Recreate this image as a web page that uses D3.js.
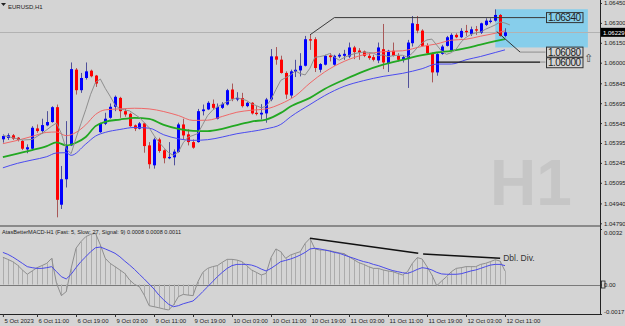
<!DOCTYPE html>
<html><head><meta charset="utf-8">
<script src="https://cdn.jsdelivr.net/npm/d3@7"></script>
<style>html,body{margin:0;padding:0;background:#d4d4d4;}svg{display:block;font-family:'Liberation Sans',Arial,sans-serif;}</style>
</head><body><svg id="c" width="625" height="326"></svg>
<script>
// ---- DATA ----
const symbolTitle = "EURUSD,H1";
const macdTitle = "AtasBetterMACD-H1 (Fast: 5, Slow: 27, Signal: 9) 0.0008 0.0008 0.0011";
const open = [1.05423,1.05433,1.05453,1.05435,1.0541,1.05347,1.05352,1.05505,1.05485,1.05528,1.05553,1.05665,1.0493,1.05122,1.05377,1.05948,1.05793,1.05885,1.0594,1.05903,1.05477,1.0554,1.05585,1.05668,1.05735,1.05635,1.05615,1.05528,1.05503,1.05543,1.05377,1.05227,1.05422,1.0534,1.0528,1.05287,1.05328,1.05535,1.0546,1.05402,1.05402,1.05635,1.05648,1.0569,1.05578,1.0566,1.05685,1.05798,1.05723,1.05733,1.05673,1.05698,1.05623,1.0561,1.05618,1.05723,1.06048,1.06023,1.05923,1.05753,1.0593,1.05942,1.05977,1.06177,1.06177,1.05947,1.05985,1.06055,1.05985,1.06047,1.06052,1.06047,1.06115,1.06092,1.06085,1.06052,1.06042,1.06017,1.06102,1.05997,1.0609,1.06052,1.06022,1.06027,1.06147,1.06292,1.06242,1.06127,1.06072,1.05927,1.06067,1.06127,1.06092,1.0621,1.06192,1.0624,1.06217,1.06252,1.06227,1.06285,1.06307,1.06317,1.0636,1.06202];
const high = [1.0546,1.05468,1.05463,1.0544,1.05418,1.05385,1.05522,1.05535,1.05578,1.05635,1.05672,1.05685,1.05222,1.0556,1.06002,1.0596,1.05923,1.06002,1.05948,1.05908,1.05548,1.05623,1.05693,1.05753,1.05743,1.05652,1.05623,1.05535,1.05553,1.05548,1.05402,1.05435,1.05435,1.05347,1.05402,1.05347,1.05548,1.05578,1.05498,1.05422,1.05652,1.05685,1.0571,1.05723,1.05693,1.05703,1.05803,1.05843,1.05778,1.05773,1.05705,1.05703,1.05673,1.05688,1.05735,1.06103,1.06118,1.06053,1.05935,1.05948,1.06022,1.06072,1.06202,1.0621,1.06192,1.05997,1.0606,1.06072,1.0606,1.06072,1.06097,1.06152,1.06127,1.0611,1.06092,1.06067,1.0606,1.06152,1.06292,1.06097,1.06152,1.06072,1.06052,1.06172,1.06352,1.06352,1.06252,1.06147,1.06077,1.06072,1.06135,1.06202,1.06222,1.06222,1.0626,1.06285,1.06272,1.06277,1.06302,1.06335,1.06335,1.06402,1.06367,1.0626];
const low = [1.05398,1.05418,1.05418,1.05407,1.05342,1.05318,1.05347,1.05472,1.05467,1.05522,1.05548,1.04835,1.04898,1.0506,1.05372,1.0576,1.05773,1.05873,1.0589,1.05818,1.05472,1.0553,1.05578,1.05635,1.05585,1.05593,1.05517,1.05485,1.05498,1.05322,1.05202,1.05202,1.05322,1.05242,1.05273,1.05227,1.05322,1.05422,1.05377,1.05352,1.05398,1.05603,1.05643,1.05648,1.05573,1.05652,1.05678,1.0571,1.0571,1.05663,1.05665,1.0561,1.05603,1.05573,1.05548,1.0571,1.05985,1.05918,1.05728,1.05735,1.05892,1.05897,1.05972,1.06097,1.0593,1.05927,1.0598,1.0601,1.05977,1.06035,1.06022,1.06035,1.06027,1.06022,1.06042,1.06022,1.0601,1.05997,1.05952,1.0593,1.06047,1.0601,1.06002,1.0581,1.06122,1.06222,1.06122,1.0606,1.05852,1.05902,1.0606,1.06122,1.06085,1.06185,1.06185,1.06202,1.06202,1.0621,1.06217,1.06277,1.06297,1.0631,1.06197,1.06192];
const close = [1.05448,1.05453,1.05428,1.05418,1.05352,1.05363,1.0551,1.05485,1.0553,1.05553,1.05665,1.04967,1.05122,1.05377,1.05952,1.05793,1.05885,1.05935,1.05898,1.05843,1.0554,1.05578,1.05668,1.05743,1.05635,1.0561,1.05522,1.05503,1.05543,1.05372,1.05235,1.05422,1.05335,1.0528,1.0529,1.0533,1.05535,1.05452,1.05402,1.0536,1.05635,1.05648,1.05698,1.0566,1.05668,1.0569,1.05793,1.05728,1.05735,1.05673,1.05698,1.05618,1.05613,1.05623,1.05723,1.06048,1.06023,1.05923,1.0576,1.05935,1.05947,1.05977,1.06177,1.06167,1.0596,1.0599,1.06052,1.06042,1.06052,1.0606,1.06067,1.06115,1.0608,1.06077,1.06052,1.06035,1.06022,1.06115,1.06002,1.0609,1.06052,1.06022,1.06042,1.06152,1.06297,1.06242,1.06127,1.06072,1.05927,1.06065,1.06122,1.06192,1.0621,1.06192,1.0624,1.0623,1.06252,1.06242,1.06297,1.06317,1.06317,1.0636,1.06202,1.06229];
// moving averages as [bar index, price]
const fastMA = [[0,1.05452],[2,1.05435],[4,1.05417],[6,1.05422],[8,1.05467],[10,1.05522],[11,1.05545],[12,1.05467],[13,1.0535],[14,1.05315],[15,1.05432],[16,1.0554],[17,1.05647],[18,1.05762],[19,1.05852],[20,1.05877],[21,1.05807],[22,1.05747],[23,1.05682],[24,1.05652],[26,1.05637],[28,1.05587],[30,1.0551],[31,1.05452],[32,1.05402],[33,1.0536],[34,1.05322],[35,1.05302],[36,1.05327],[37,1.05397],[38,1.0544],[39,1.05452],[40,1.05467],[41,1.05535],[42,1.05602],[43,1.05642],[44,1.05667],[45,1.05687],[46,1.05707],[47,1.05722],[48,1.05735],[49,1.05727],[50,1.05715],[51,1.0569],[52,1.05677],[53,1.0566],[54,1.05672],[55,1.05722],[56,1.05797],[57,1.05867],[58,1.05887],[59,1.05907],[60,1.05938],[61,1.05918],[62,1.05908],[63,1.05959],[64,1.06041],[65,1.06046],[66,1.06054],[67,1.06069],[68,1.06042],[69,1.06019],[70,1.06039],[71,1.06055],[72,1.06067],[73,1.06075],[74,1.0608],[75,1.06078],[76,1.06072],[77,1.06053],[78,1.0606],[79,1.06045],[80,1.06053],[81,1.06056],[82,1.06056],[83,1.06042],[84,1.06072],[85,1.06113],[86,1.06151],[87,1.06172],[88,1.06178],[89,1.06133],[90,1.06087],[91,1.06063],[92,1.06076],[93,1.06103],[94,1.06156],[95,1.06191],[96,1.06213],[97,1.06225],[98,1.06231],[99,1.06252],[100,1.06268],[101,1.06285],[102,1.06307],[103,1.06299],[104,1.06285]];
const redMA = [[0,1.0539],[3,1.05415],[6,1.05445],[9,1.05475],[11,1.05478],[13,1.0545],[15,1.05475],[17,1.05532],[19,1.0561],[21,1.05645],[24,1.05652],[27,1.05657],[30,1.05652],[33,1.05632],[36,1.05602],[39,1.05565],[42,1.05567],[45,1.05595],[48,1.05627],[51,1.05642],[54,1.05652],[57,1.0569],[60,1.0575],[63,1.05847],[66,1.0593],[70,1.0601],[74,1.0606],[78,1.06083],[82,1.0609],[86,1.06123],[89,1.06142],[92,1.0617],[95,1.06177],[98,1.062],[101,1.06222],[103,1.0624]];
const greenMA = [[0,1.05288],[3,1.05315],[6,1.05342],[9,1.05372],[11,1.054],[13,1.05377],[15,1.05397],[17,1.0544],[19,1.05522],[21,1.05555],[24,1.05572],[27,1.05585],[30,1.05577],[33,1.05532],[36,1.05502],[39,1.05487],[42,1.05485],[45,1.05502],[48,1.0553],[51,1.05557],[54,1.05572],[57,1.05622],[59,1.0567],[63,1.05735],[66,1.05802],[70,1.05872],[74,1.05935],[78,1.05985],[82,1.06022],[86,1.06057],[89,1.06077],[92,1.0609],[95,1.0611],[98,1.06137],[101,1.06162],[103,1.06177]];
const blueMA = [[0,1.05208],[3,1.05242],[6,1.05267],[9,1.05292],[11,1.0532],[13,1.05322],[14,1.05302],[17,1.05387],[19,1.05447],[21,1.05475],[24,1.05497],[27,1.05512],[30,1.05507],[33,1.05457],[36,1.05427],[39,1.05415],[42,1.0542],[45,1.0544],[48,1.05465],[51,1.05482],[54,1.05502],[57,1.05535],[59,1.05592],[63,1.05685],[66,1.05752],[70,1.05822],[74,1.05865],[78,1.05897],[82,1.0592],[86,1.05955],[89,1.0599],[92,1.0599],[95,1.06022],[98,1.06047],[101,1.06077],[103,1.06097]];
const macdMain = [0.00157,0.00145,0.00132,0.00112,0.00084,0.00059,0.00078,0.00097,0.00109,0.00122,0.00151,0.00007,-0.00064,-0.00041,0.00093,0.00209,0.00247,0.00276,0.00289,0.00295,0.00228,0.00151,0.00122,0.00103,0.00084,0.00064,0.00026,0.00001,-0.00013,-0.00061,-0.00122,-0.00128,-0.00134,-0.00141,-0.00147,-0.00118,-0.00070,-0.00057,-0.00061,-0.00064,0.00016,0.00070,0.00093,0.00103,0.00109,0.00128,0.00145,0.00145,0.00141,0.00132,0.00109,0.00084,0.00070,0.00055,0.00064,0.00155,0.00205,0.00189,0.00151,0.00170,0.00180,0.00189,0.00237,0.00266,0.00205,0.00199,0.00199,0.00195,0.00189,0.00182,0.00178,0.00160,0.00143,0.00126,0.00116,0.00103,0.00093,0.00093,0.00084,0.00078,0.00074,0.00064,0.00055,0.00074,0.00122,0.00155,0.00147,0.00103,0.00055,-0.00007,0.00020,0.00045,0.00074,0.00093,0.00097,0.00103,0.00103,0.00103,0.00116,0.00122,0.00132,0.00143,0.00135,0.00078];
const macdSignal = [0.00185,0.00174,0.00159,0.00141,0.00122,0.00103,0.00097,0.00093,0.00093,0.00097,0.00103,0.00074,0.00045,0.00032,0.00059,0.00097,0.00132,0.00160,0.00189,0.00212,0.00216,0.00205,0.00193,0.00180,0.00160,0.00135,0.00112,0.00087,0.00059,0.00032,0.00003,-0.00026,-0.00061,-0.00089,-0.00114,-0.00128,-0.00122,-0.00111,-0.00103,-0.00095,-0.00070,-0.00041,-0.00013,0.00016,0.00045,0.00070,0.00093,0.00109,0.00116,0.00116,0.00116,0.00112,0.00103,0.00089,0.00078,0.00093,0.00112,0.00132,0.00139,0.00147,0.00157,0.00170,0.00185,0.00205,0.00209,0.00205,0.00199,0.00193,0.00185,0.00180,0.00170,0.00160,0.00151,0.00141,0.00132,0.00126,0.00116,0.00109,0.00099,0.00089,0.00080,0.00074,0.00068,0.00064,0.00074,0.00087,0.00097,0.00093,0.00084,0.00070,0.00061,0.00059,0.00059,0.00059,0.00062,0.00070,0.00078,0.00084,0.00093,0.00103,0.00112,0.00116,0.00116,0.00109];
const priceTicks = [1.06450,1.06300,1.06150,1.06000,1.05845,1.05695,1.05545,1.05395,1.05245,1.05095,1.04940,1.04790];
const currentPrice = 1.06229;
const timeTickIdx = [0,7,15,23,31,39,47,55,63,71,79,87,95,103];
const timeTickText = ["5 Oct 2023","6 Oct 11:00","6 Oct 19:00","9 Oct 03:00","9 Oct 11:00","9 Oct 19:00","10 Oct 03:00","10 Oct 11:00","10 Oct 19:00","11 Oct 03:00","11 Oct 11:00","11 Oct 19:00","12 Oct 03:00","12 Oct 11:00"];
const macdTicks = [0.0032, 0, -0.0017];
const macdTickText = ["0.0032","0.00","-0.0017"];
// annotations (bar index, price)
const zoneRect = {i0:101, i1:120, p0:1.06403, p1:1.06115};
const levelPrices = [1.06340, 1.06080, 1.06000];
const levelLabels = ["1.06340","1.06080","1.06000"];
const level1Path = [[63,1.0621],[68,1.0634],[111.3,1.0634]];
const level2Diag = [[101.3,1.06235],[106.1,1.0608]];
const level2Flat = [[106.1,1.0608],[111.3,1.0608]];
const level3Black = [[89,1.06005],[110.2,1.06005]];
const level3Gray = [[110.2,1.06005],[111.3,1.06005]];
const divLine1 = [[63,0.00266],[85.2,0.0018]];
const divLine2 = [[86.2,0.00176],[102,0.00151]];

// ---- CHART ----
const svg = d3.select('#c');
const BG = '#d4d4d4';
svg.append('rect').attr('width',625).attr('height',326).attr('fill',BG);
const x = d3.scaleLinear().domain([0,103]).range([2.875,505]);
const y = d3.scaleLinear().domain([1.0479,1.0645]).range([223.3,3]);
const ym = d3.scaleLinear().domain([-0.0017,0.0032]).range([314,229]);
const defs = svg.append('defs');
defs.append('clipPath').attr('id','cm').append('rect').attr('x',0).attr('y',0).attr('width',600).attr('height',225);
defs.append('clipPath').attr('id','cd').append('rect').attr('x',0).attr('y',228).attr('width',600).attr('height',86);

const main = svg.append('g').attr('clip-path','url(#cm)');
main.append('text').attr('x',490).attr('y',205).attr('font-size',64).attr('font-weight','bold').attr('fill','#c6c6c6').text('H1');
main.append('rect').attr('x',x(zoneRect.i0)).attr('y',y(zoneRect.p0)).attr('width',x(zoneRect.i1)-x(zoneRect.i0)).attr('height',y(zoneRect.p1)-y(zoneRect.p0)).attr('fill','#87ceeb');
main.append('line').attr('x1',0).attr('x2',600).attr('y1',Math.round(y(currentPrice))+0.5).attr('y2',Math.round(y(currentPrice))+0.5).attr('stroke','#b2b2b2').attr('stroke-width',1);

const idx = d3.range(open.length);
const cg = main.append('g');
idx.forEach(i=>{
  const bx = Math.round(x(i));
  const up = close[i] >= open[i];
  const wc = up ? '#50509a' : '#a85858';
  const fc = up ? '#0000ff' : '#ff0000';
  cg.append('rect').attr('x',bx).attr('width',1).attr('y',y(high[i])).attr('height',Math.max(1,y(low[i])-y(high[i]))).attr('fill',wc);
  const t = y(Math.max(open[i],close[i])), b = y(Math.min(open[i],close[i]));
  cg.append('rect').attr('x',bx-1).attr('width',3).attr('y',t).attr('height',Math.max(1,b-t)).attr('fill',fc);
});
const ln = d3.line().x(d=>x(d[0])).y(d=>y(d[1])).curve(d3.curveMonotoneX);
main.append('path').attr('d',ln(blueMA)).attr('fill','none').attr('stroke','#4b4bf0').attr('stroke-width',1);
main.append('path').attr('d',ln(greenMA)).attr('fill','none').attr('stroke','#22a822').attr('stroke-width',1.8);
main.append('path').attr('d',ln(redMA)).attr('fill','none').attr('stroke','#f06868').attr('stroke-width',1);
main.append('path').attr('d',d3.line().x(d=>x(d[0])).y(d=>y(d[1]))(fastMA)).attr('fill','none').attr('stroke','#8e8e8e').attr('stroke-width',1);
const pl = d3.line().x(d=>x(d[0])).y(d=>y(d[1]));
main.append('path').attr('d',pl(level1Path)).attr('fill','none').attr('stroke','#3a3a3a').attr('stroke-width',1);
main.append('path').attr('d',pl(level2Diag)).attr('fill','none').attr('stroke','#333').attr('stroke-width',1);
main.append('path').attr('d',pl(level2Flat)).attr('fill','none').attr('stroke','#9a9a9a').attr('stroke-width',1.2);
main.append('path').attr('d',pl(level3Black)).attr('fill','none').attr('stroke','#111').attr('stroke-width',1.3);
main.append('path').attr('d',pl(level3Gray)).attr('fill','none').attr('stroke','#9a9a9a').attr('stroke-width',1.2);
levelPrices.forEach((p,k)=>{
  const yy = y(p);
  main.append('rect').attr('x',546.5).attr('y',yy-5).attr('width',36.5).attr('height',10).attr('fill','none').attr('stroke','#333').attr('stroke-width',1);
  main.append('text').attr('x',548).attr('y',yy+3.6).attr('font-size',10).attr('fill','#222').attr('textLength',33).text(levelLabels[k]);
});
main.append('text').attr('x',584).attr('y',y(1.0608)+10).attr('font-size',11).attr('fill','#444').attr('font-family','DejaVu Sans').text('\u21E7');

svg.append('path').attr('d','M1,3 L6,3 L3.5,6 Z').attr('fill','#222');
svg.append('text').attr('x',8).attr('y',9).attr('font-size',6).attr('fill','#222').text(symbolTitle);

const pa = svg.append('g').attr('transform','translate(600,0)').call(d3.axisRight(y).tickValues(priceTicks).tickFormat(d3.format('.5f')).tickSize(2).tickPadding(2));
pa.select('.domain').remove();
pa.selectAll('text').attr('font-size',6).attr('fill','#222').attr('font-family','Liberation Sans');
pa.selectAll('line').attr('stroke','#333');
svg.append('rect').attr('x',601).attr('y',y(currentPrice)-4.5).attr('width',24).attr('height',9).attr('fill','#000');
svg.append('text').attr('x',603).attr('y',y(currentPrice)+2.2).attr('font-size',6).attr('fill','#fff').text(d3.format('.5f')(currentPrice));

svg.append('rect').attr('x',0).attr('y',225).attr('width',600).attr('height',2).attr('fill','#8a8a8a');

const md = svg.append('g').attr('clip-path','url(#cd)');
md.append('line').attr('x1',0).attr('x2',600).attr('y1',Math.round(ym(0))+0.5).attr('y2',Math.round(ym(0))+0.5).attr('stroke','#7a7a7a');
idx.forEach(i=>{
  const bx = Math.round(x(i))+0.5;
  md.append('line').attr('x1',bx).attr('x2',bx).attr('y1',ym(0)).attr('y2',ym(macdMain[i])).attr('stroke','#acacac').attr('stroke-width',1);
});
const ml = d3.line().x((d,i)=>x(i)).y(d=>ym(d));
md.append('path').attr('d',ml(macdMain)).attr('fill','none').attr('stroke','#8e8e8e').attr('stroke-width',1);
md.append('path').attr('d',ml(macdSignal)).attr('fill','none').attr('stroke','#4a4ae8').attr('stroke-width',1);
const dl = d3.line().x(d=>x(d[0])).y(d=>ym(d[1]));
md.append('path').attr('d',dl(divLine1)).attr('fill','none').attr('stroke','#111').attr('stroke-width',1.5);
md.append('path').attr('d',dl(divLine2)).attr('fill','none').attr('stroke','#111').attr('stroke-width',1.5);
md.append('text').attr('x',x(102)+3).attr('y',ym(0.00151)+3).attr('font-size',8.5).attr('fill','#333').text('Dbl. Div.');
svg.append('text').attr('x',2).attr('y',234).attr('font-size',5.6).attr('fill','#222').text(macdTitle);

const ma = svg.append('g').attr('transform','translate(600,0)').call(d3.axisRight(ym).tickValues(macdTicks).tickFormat((d,i)=>macdTickText[i]).tickSize(2).tickPadding(2));
ma.select('.domain').remove();
ma.selectAll('text').attr('font-size',6).attr('fill','#222').attr('dy',(d,i)=> i===0 ? '0.9em' : (i===2 ? '-0.1em' : '0.32em'));
ma.selectAll('line').attr('stroke','#333');
svg.append('rect').attr('x',601.5).attr('y',ym(0)-3.5).attr('width',3.5).attr('height',7).attr('fill','none').attr('stroke','#222').attr('stroke-width',0.8);

svg.append('line').attr('x1',600.5).attr('x2',600.5).attr('y1',0).attr('y2',314).attr('stroke','#222');
svg.append('line').attr('x1',0).attr('x2',601).attr('y1',314.5).attr('y2',314.5).attr('stroke','#222');

const ta = svg.append('g').attr('transform','translate(0,314)').call(d3.axisBottom(x).tickValues(timeTickIdx).tickFormat((d,i)=>timeTickText[i]).tickSize(3).tickPadding(2));
ta.select('.domain').remove();
ta.selectAll('text').attr('font-size',6).attr('fill','#222').attr('text-anchor','start').attr('dx',1);
ta.selectAll('line').attr('stroke','#333');
</script></body></html>
